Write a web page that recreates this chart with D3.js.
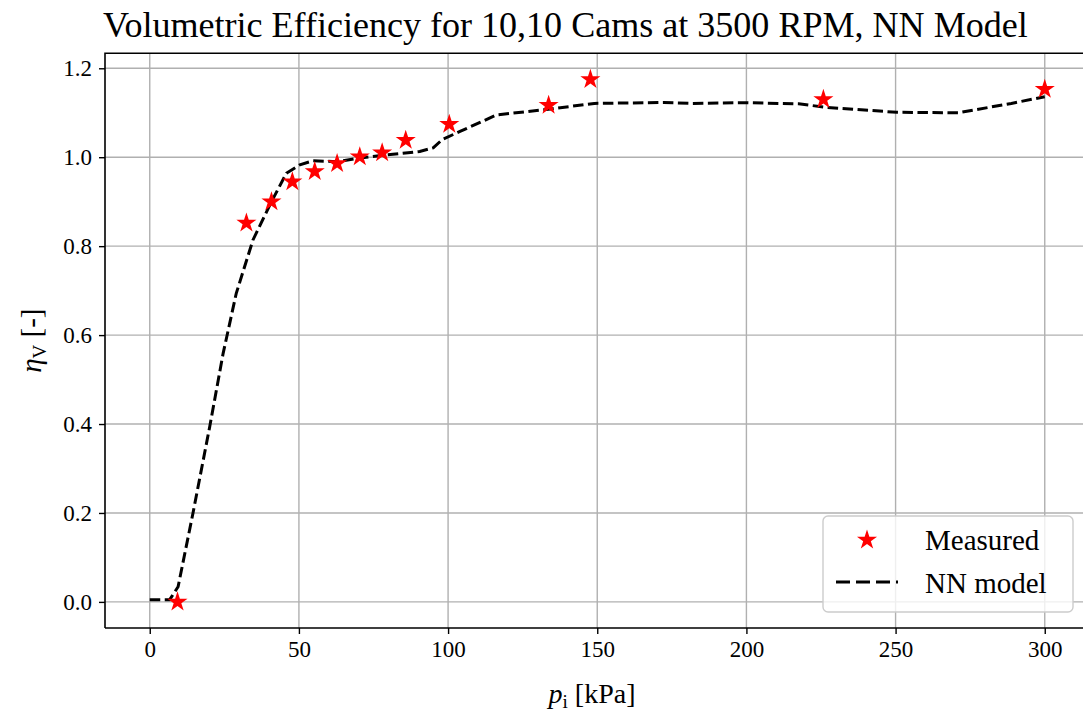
<!DOCTYPE html>
<html>
<head>
<meta charset="utf-8">
<script src="https://cdn.jsdelivr.net/npm/d3@7"></script>
<style>
  body { margin: 0; background: #fff; }
  text { font-family: "Liberation Serif", "Times New Roman", serif; fill: #000; }
</style>
</head>
<body>
<svg id="chart" width="1083" height="715"></svg>
<script>
// measured points (kPa, -)
var measuredP   = [9.3, 32.4, 40.8, 47.8, 55.3, 62.8, 70.4, 77.9, 85.8, 100.4, 133.7, 147.7, 225.8, 300];
var measuredEta = [0.0, 0.852, 0.900, 0.945, 0.968, 0.986, 1.001, 1.010, 1.038, 1.074, 1.117, 1.175, 1.130, 1.153];

// NN model curve
var modelP   = [0, 6.7, 9.5, 14.5, 20.1, 24.6, 29.0, 34.6, 40.8, 45.8, 50.3, 54.7, 62.6, 70.4, 79.3, 90.5, 95, 98.1,
                104, 116.2, 133.7, 149, 172.3, 182, 199.7, 217.5, 227, 250.4, 271, 288.8, 300];
var modelEta = [0.005, 0.005, 0.034, 0.200, 0.394, 0.559, 0.694, 0.814, 0.900, 0.964, 0.983, 0.992, 0.990, 0.998, 1.005, 1.013, 1.021, 1.040,
                1.058, 1.095, 1.108, 1.121, 1.123, 1.121, 1.1226, 1.120, 1.112, 1.101, 1.100, 1.121, 1.136];

var xTicks = [0, 50, 100, 150, 200, 250, 300];
var yTicks = [0.0, 0.2, 0.4, 0.6, 0.8, 1.0, 1.2];

function drawChart() {
  var svg = d3.select("#chart");
  // plot area edges (right edge runs past the picture, as in the reference)
  var pl = 105, pr = 1089.5, pt = 53.3, pb = 628;

  var x = d3.scaleLinear().domain([-15, 315]).range([pl, pr]);
  var y = d3.scaleLinear().domain([-0.0587, 1.2337]).range([pb, pt]);

  svg.append("defs").append("clipPath").attr("id", "clip")
    .append("rect").attr("x", pl).attr("y", pt).attr("width", pr - pl).attr("height", pb - pt);

  // grid
  var grid = svg.append("g").attr("stroke", "#b0b0b0").attr("stroke-width", 1.4);
  grid.selectAll(".gx").data(xTicks).enter().append("line")
    .attr("x1", d => x(d)).attr("x2", d => x(d)).attr("y1", pt).attr("y2", pb);
  grid.selectAll(".gy").data(yTicks).enter().append("line")
    .attr("y1", d => y(d)).attr("y2", d => y(d)).attr("x1", pl).attr("x2", pr);

  // axes
  var xAxis = svg.append("g").attr("transform", "translate(0," + pb + ")")
    .call(d3.axisBottom(x).tickValues(xTicks).tickSize(6).tickPadding(7).tickFormat(d3.format("d")));
  var yAxis = svg.append("g").attr("transform", "translate(" + pl + ",0)")
    .call(d3.axisLeft(y).tickValues(yTicks).tickSize(6).tickPadding(7).tickFormat(d3.format(".1f")));
  [xAxis, yAxis].forEach(function (a) {
    a.select(".domain").remove();
    a.selectAll(".tick line").attr("stroke", "#000").attr("stroke-width", 1.4);
    a.selectAll(".tick text").attr("font-size", 23).attr("font-family", "Liberation Serif");
  });

  // frame
  svg.append("path")
    .attr("d", "M" + pl + "," + pb + "V" + pt + "H" + pr + "M" + pl + "," + pb + "H" + pr)
    .attr("fill", "none").attr("stroke", "#000").attr("stroke-width", 1.6);

  var plot = svg.append("g").attr("clip-path", "url(#clip)");

  var line = d3.line().x(d => x(d[0])).y(d => y(d[1]));
  plot.append("path")
    .datum(d3.zip(modelP, modelEta))
    .attr("d", line)
    .attr("fill", "none").attr("stroke", "#000").attr("stroke-width", 3)
    .attr("stroke-dasharray", "10.5,4.5");

  var star = d3.symbol().type(d3.symbolStar).size(125);
  plot.selectAll(".pt").data(d3.zip(measuredP, measuredEta)).enter().append("path")
    .attr("d", star)
    .attr("transform", d => "translate(" + x(d[0]) + "," + y(d[1]) + ")")
    .attr("fill", "#ff0000");

  // title
  var title = svg.append("text").attr("x", 103).attr("y", 37).attr("font-size", 30)
    .text("Volumetric Efficiency for 10,10 Cams at 3500 RPM, NN Model");
  var tw = title.node().getComputedTextLength();
  title.attr("font-size", 30 * 925 / tw);

  // x label
  var xl = svg.append("text").attr("x", 592).attr("y", 703)
    .attr("text-anchor", "middle").attr("font-size", 28);
  xl.append("tspan").attr("font-style", "italic").text("p");
  xl.append("tspan").attr("font-size", 19).attr("dy", 5).text("i");
  xl.append("tspan").attr("dy", -5).text(" [kPa]");

  // y label
  var yl = svg.append("text").attr("transform", "translate(41," + ((pt + pb) / 2) + ") rotate(-90)")
    .attr("text-anchor", "middle").attr("font-size", 29);
  yl.append("tspan").attr("font-style", "italic").text("η");
  yl.append("tspan").attr("font-size", 19).attr("dy", 5).text("V");
  yl.append("tspan").attr("dy", -5).text(" [-]");

  // legend
  var lg = svg.append("g");
  lg.append("rect").attr("x", 823).attr("y", 516).attr("width", 250).attr("height", 96)
    .attr("rx", 5).attr("fill", "#fff").attr("fill-opacity", 0.8)
    .attr("stroke", "#cccccc").attr("stroke-width", 1.4);
  lg.append("path").attr("d", star).attr("transform", "translate(867,540)").attr("fill", "#ff0000");
  lg.append("line").attr("x1", 836).attr("x2", 898).attr("y1", 582).attr("y2", 582)
    .attr("stroke", "#000").attr("stroke-width", 3).attr("stroke-dasharray", "14,6");
  lg.append("text").attr("x", 925).attr("y", 550).attr("font-size", 29).text("Measured");
  lg.append("text").attr("x", 925).attr("y", 593).attr("font-size", 29).text("NN model");
}

drawChart();
</script>
</body>
</html>
